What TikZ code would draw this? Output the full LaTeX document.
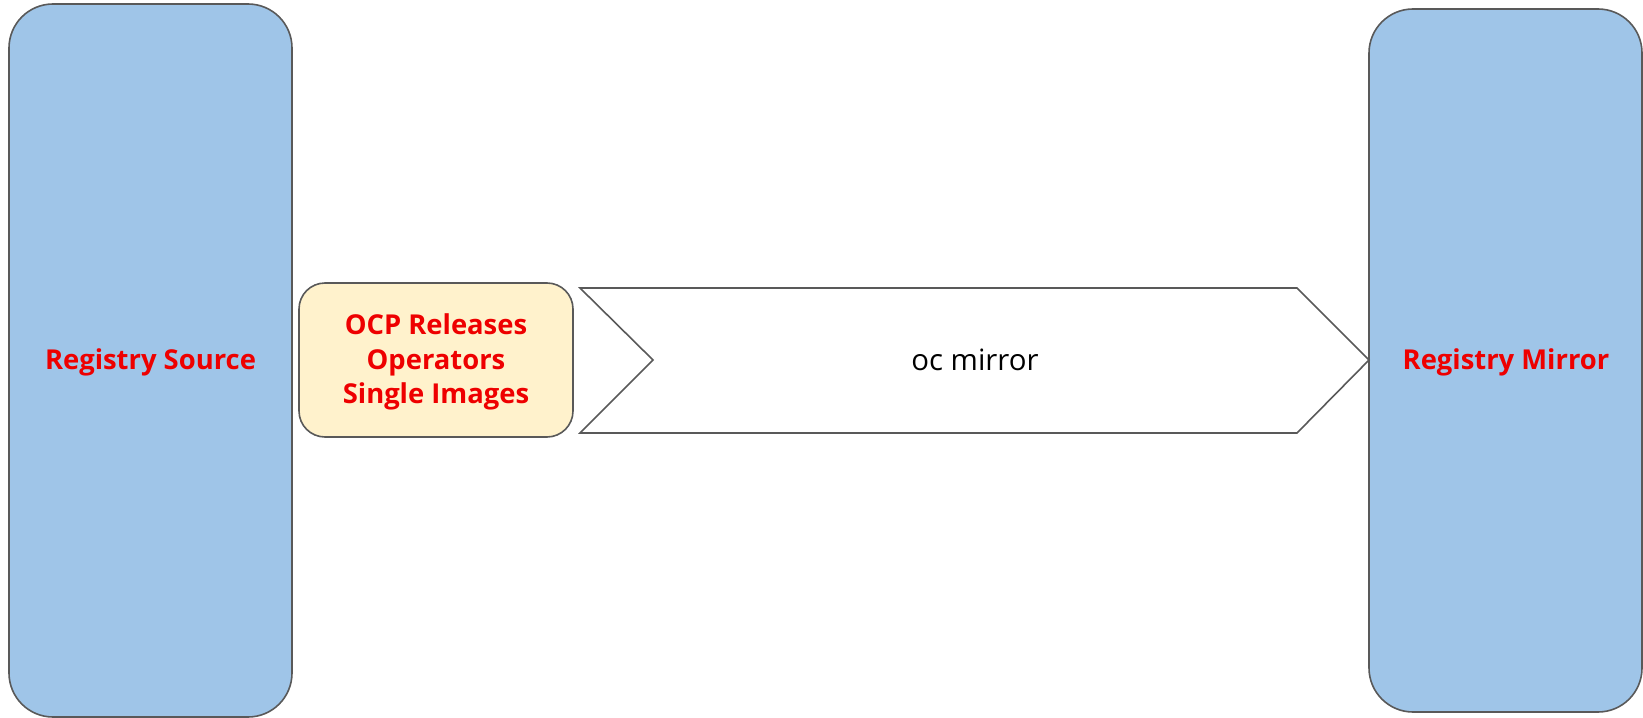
\documentclass[tikz,border=0pt]{standalone}
\usepackage{fontspec}
\setmainfont{Open Sans}
\definecolor{boxblue}{HTML}{9FC5E8}
\definecolor{boxyellow}{HTML}{FFF2CC}
\definecolor{edgegray}{HTML}{595959}
\definecolor{rhred}{HTML}{EE0000}
\begin{document}
\begin{tikzpicture}[x=1bp,y=-1bp,
  regbox/.style={draw=edgegray,fill=boxblue,line width=1.6bp,rounded corners=44bp},
  contentbox/.style={draw=edgegray,fill=boxyellow,line width=1.6bp,rounded corners=26bp},
  redlabel/.style={text=rhred,font=\fontsize{27.5}{34.5}\selectfont\bfseries,align=center},
  chev/.style={draw=edgegray,fill=white,line width=1.6bp,line join=miter}]
\useasboundingbox (0,0) rectangle (1643,718);
\draw[regbox] (9,4) rectangle (292,717);
\node[redlabel] (src) at (150.5,362) {Registry Source};
\draw[regbox] (1369,9) rectangle (1642,712);
\node[redlabel] (mir) at (1506,362) {Registry Mirror};
\draw[contentbox] (299,283) rectangle (573,437);
\node[redlabel] (content) at (436,362) {OCP Releases\\Operators\\Single Images};
\draw[chev] (580,288) -- (1297,288) -- (1369,360) -- (1297,433) -- (580,433) -- (653,360) -- cycle;
\node[font=\fontsize{29.5}{32}\selectfont] (oc) at (975,360) {oc mirror};
\end{tikzpicture}
\end{document}
